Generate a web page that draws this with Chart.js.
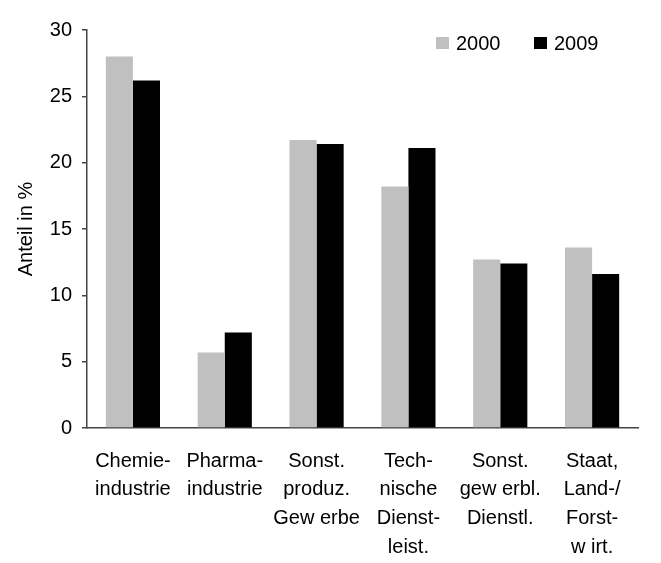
<!DOCTYPE html>
<html>
<head>
<meta charset="utf-8">
<style>
  html, body { margin: 0; padding: 0; background: #fff; }
  canvas { display: block; }
</style>
<script src="https://cdn.jsdelivr.net/npm/chart.js@4/dist/chart.umd.min.js"></script>
</head>
<body>
<canvas id="chart" width="661" height="563"></canvas>
<script>
// data
const categories = [
  ["Chemie-", "industrie"],
  ["Pharma-", "industrie"],
  ["Sonst.", "produz.", "Gew erbe"],
  ["Tech-", "nische", "Dienst-", "leist."],
  ["Sonst.", "gew erbl.", "Dienstl."],
  ["Staat,", "Land-/", "Forst-", "w irt."]
];
const values2000 = [28.0, 5.7, 21.7, 18.2, 12.7, 13.6];
const values2009 = [26.2, 7.2, 21.4, 21.1, 12.4, 11.6];
const yTicks = [0, 5, 10, 15, 20, 25, 30];

const FONT = "'Liberation Sans', Arial, sans-serif";
const axisColor = "#444";

// legend drawn inside the plot, top right
const insideLegend = {
  id: "insideLegend",
  afterDraw(chart) {
    const ctx = chart.ctx;
    const xs = [436, 534];
    ctx.save();
    ctx.font = "20px " + FONT;
    ctx.textBaseline = "middle";
    chart.data.datasets.forEach((ds, i) => {
      ctx.fillStyle = ds.backgroundColor;
      ctx.fillRect(xs[i], 37, 13, 12);
      ctx.fillStyle = "#000";
      ctx.fillText(ds.label, xs[i] + 20, 44);
    });
    ctx.restore();
  }
};

new Chart(document.getElementById("chart"), {
  type: "bar",
  data: {
    labels: categories,
    datasets: [
      { label: "2000", data: values2000, backgroundColor: "#c0c0c0" },
      { label: "2009", data: values2009, backgroundColor: "#000000" }
    ]
  },
  options: {
    responsive: false,
    animation: false,
    layout: { padding: { top: 30, right: 23, left: 0, bottom: 0 } },
    datasets: { bar: { categoryPercentage: 0.59, barPercentage: 1.0 } },
    plugins: {
      legend: { display: false },
      tooltip: { enabled: false }
    },
    scales: {
      x: {
        grid: { display: false, drawTicks: false },
        border: { display: true, color: axisColor, width: 1.5 },
        ticks: {
          color: "#000",
          padding: 19,
          maxRotation: 0,
          autoSkip: false,
          font: { family: FONT, size: 20, lineHeight: 1.43 }
        },
        afterFit(scale) { scale.height = 135; }
      },
      y: {
        min: 0,
        max: 30,
        afterBuildTicks(scale) { scale.ticks = yTicks.map(v => ({ value: v })); },
        grid: { drawOnChartArea: false, drawTicks: true, tickLength: 5, color: axisColor, lineWidth: 1.5 },
        border: { display: true, color: axisColor, width: 1.5 },
        ticks: {
          color: "#000",
          padding: 10,
          font: { family: FONT, size: 20 }
        },
        title: {
          display: true,
          text: "Anteil in %",
          color: "#000",
          padding: { top: 14, bottom: 0 },
          font: { family: FONT, size: 20 }
        },
        afterFit(scale) { scale.width = 87; }
      }
    }
  },
  plugins: [insideLegend]
});
</script>
</body>
</html>
